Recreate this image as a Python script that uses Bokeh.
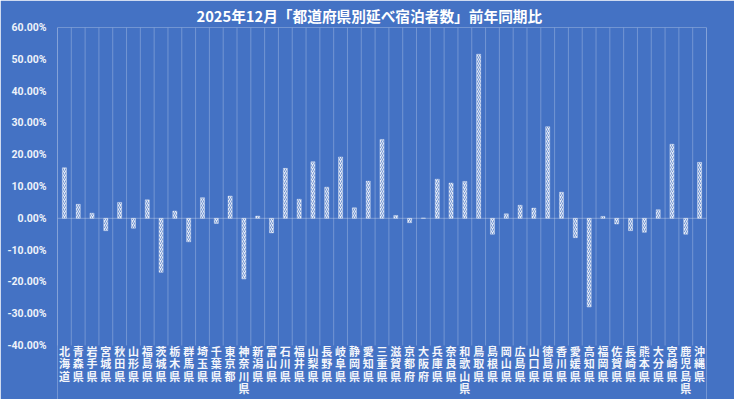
from bokeh.plotting import figure
from bokeh.models import FixedTicker, NumeralTickFormatter, Span
from bokeh.embed import file_html
from bokeh.resources import INLINE

prefectures = ["北海道", "青森県", "岩手県", "宮城県", "秋田県", "山形県", "福島県", "茨城県",
               "栃木県", "群馬県", "埼玉県", "千葉県", "東京都", "神奈川県", "新潟県", "富山県",
               "石川県", "福井県", "山梨県", "長野県", "岐阜県", "静岡県", "愛知県", "三重県",
               "滋賀県", "京都府", "大阪府", "兵庫県", "奈良県", "和歌山県", "鳥取県", "島根県",
               "岡山県", "広島県", "山口県", "徳島県", "香川県", "愛媛県", "高知県", "福岡県",
               "佐賀県", "長崎県", "熊本県", "大分県", "宮崎県", "鹿児島県", "沖縄県"]
yoy_pct = [15.9, 4.4, 1.6, -3.9, 5.0, -3.1, 5.8, -17.0,
           2.3, -7.4, 6.5, -1.6, 7.0, -19.1, 0.7, -4.6,
           15.7, 6.0, 17.8, 9.8, 19.3, 3.3, 11.7, 24.8,
           0.9, -1.4, 0.1, 12.3, 11.1, 11.6, 51.6, -5.0,
           1.4, 4.1, 3.2, 28.8, 8.2, -6.1, -27.9, 0.6,
           -1.8, -3.9, -4.4, 2.7, 23.3, -5.0, 17.6]
y_ticks = [-0.4, -0.3, -0.2, -0.1, 0.0, 0.1, 0.2, 0.3, 0.4, 0.5, 0.6]
title_text = "2025年12月「都道府県別延べ宿泊者数」前年同期比"

BG = "#4472C4"
FONT = "Noto Sans CJK JP"
Y_MIN, Y_MAX = -0.4, 0.6

# layout (pixels)
W, H = 734, 399
TOP, LEFT, RIGHT = 27, 57, 28
PLOT_PX = 318                      # height of the -40%..60% value band
PX_PER_UNIT = PLOT_PX / (Y_MAX - Y_MIN)
frame_px = H - TOP
y_bottom = Y_MAX - frame_px / PX_PER_UNIT   # frame extends below -40% to hold the category labels
label_y = Y_MIN + 3 / PX_PER_UNIT

xs = list(range(1, len(prefectures) + 1))
vals = [v / 100.0 for v in yoy_pct]
bounds = [i + 0.5 for i in range(0, len(prefectures) + 1)]

p = figure(width=W, height=H, output_backend="svg", toolbar_location=None,
           x_range=(0.5, len(prefectures) + 0.5), y_range=(y_bottom, Y_MAX),
           min_border_left=LEFT, min_border_right=RIGHT, min_border_top=TOP, min_border_bottom=0)
p.background_fill_color = BG
p.border_fill_color = BG
p.outline_line_color = None

p.title.text = title_text
p.title.text_color = "white"
p.title.text_font = FONT
p.title.text_font_size = "14.7px"
p.title.text_font_style = "bold"
p.title.align = "left"
p.title.offset = 139
p.title.standoff = 4

# category boundary grid lines (only across the value band)
p.segment(x0=bounds, y0=[Y_MIN] * len(bounds), x1=bounds, y1=[Y_MAX] * len(bounds),
          line_color="white", line_alpha=0.25, line_width=1)

p.vbar(x=xs, top=vals, bottom=0, width=0.3,
       fill_color="white", fill_alpha=0.85,
       hatch_pattern="/", hatch_color=BG, hatch_scale=4, hatch_weight=1, hatch_alpha=0.7,
       line_color="white", line_alpha=0.6, line_width=0.5)

p.add_layout(Span(location=0, dimension="width", line_color="white", line_alpha=0.3, line_width=1))

p.xgrid.visible = False
p.ygrid.visible = False

p.yaxis.ticker = FixedTicker(ticks=y_ticks)
p.yaxis.formatter = NumeralTickFormatter(format="0.00%")
p.yaxis.major_label_text_font = "Roboto"
p.yaxis.major_label_text_font_size = "10.5px"
p.yaxis.major_label_text_font_style = "bold"
p.yaxis.major_label_text_color = "#EEF2FA"
p.yaxis.major_label_standoff = 11
p.yaxis.axis_line_color = None
p.yaxis.major_tick_line_color = None
p.yaxis.minor_tick_line_color = None
p.yaxis.major_tick_in = 0
p.yaxis.major_tick_out = 0
p.xaxis.visible = False

# category labels, one character per line
p.text(x=xs, y=[label_y] * len(xs), text=["\n".join(name) for name in prefectures],
       text_align="center", text_baseline="top",
       text_font={"value": FONT}, text_font_size="11px", text_font_style="bold",
       text_color="#F4F6FB", text_line_height=0.79)

html = file_html(p, INLINE)
html = html.replace("<body>", '<body style="background-color:%s;">' % BG, 1)
open("out.html", "w").write(html)
